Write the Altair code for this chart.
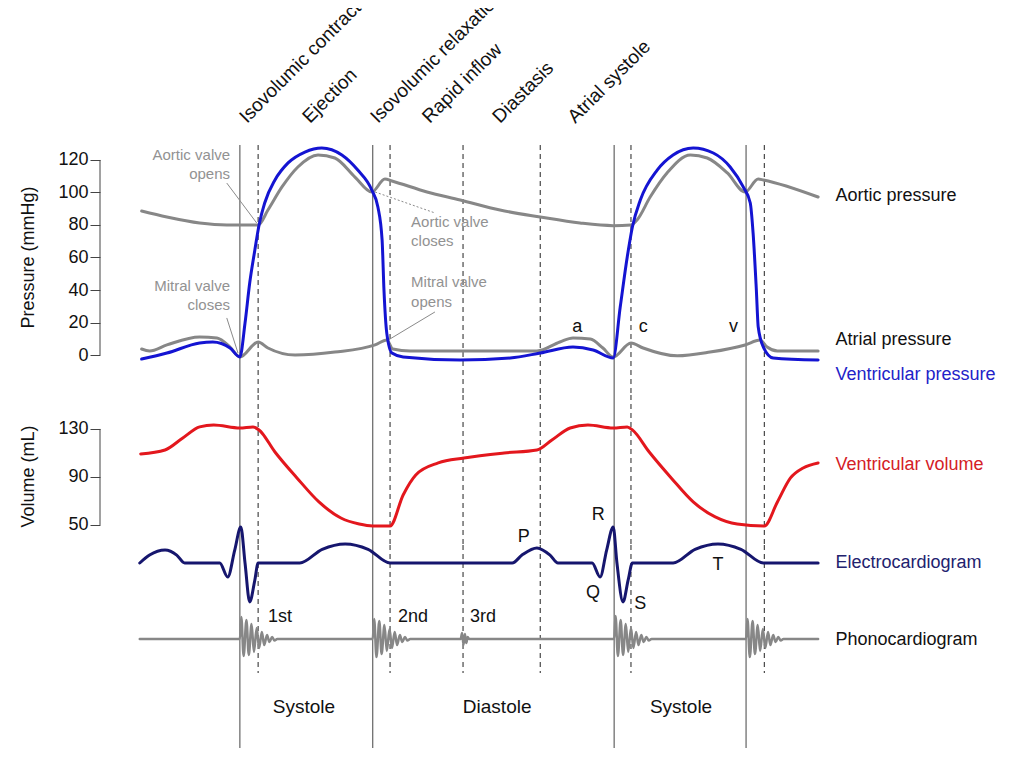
import altair as alt
import pandas as pd

FONT = "Liberation Sans"

# ---- time in ms (0 = start of isovolumic contraction of first beat) ----
T_DOMAIN = [-299, 1659]

solid_t = [0, 284, 800, 1082]
dashed_t = [39, 321, 477, 642, 836, 1121]

# ---- pressures (mmHg) ----
aortic_t = [-210, -156, -86, -28, 39, 60, 90, 124, 167, 203, 246, 282, 310, 325, 400, 471, 556, 642, 727,
            798, 836, 849, 877, 913, 963, 999, 1042, 1080, 1108, 1119, 1236]
aortic_p = [88.6, 84.9, 81.2, 80.0, 80.0, 89.2, 103.4, 115.7, 123.1, 121.2, 109.5, 100.3, 108.3, 107.1, 100.3,
            95.4, 89.2, 84.9, 81.2, 79.6, 80.0, 83.1, 97.2, 112.0, 123.1, 121.2, 112.0, 100.3, 108.3, 107.7, 97.2]

atrial_t = [-210, -193, -156, -86, -49, -21, 0, 39, 60, 118, 203, 289, 314, 327, 364, 635, 684, 712, 749, 776,
            798, 836, 862, 935, 1005, 1080, 1112, 1127, 1149, 1236]
atrial_p = [3.7, 2.5, 6.2, 11.1, 10.5, 4.9, -1.2, 8.0, 4.3, 0.0, 1.8, 6.2, 9.2, 3.7, 2.5, 2.5, 8.0, 10.5, 9.8, 4.3,
            -1.2, 7.4, 4.3, -0.5, 1.8, 6.2, 9.2, 4.9, 2.5, 2.5]

vent_t = [-210, -156, -86, -58, -21, 0, 11, 21, 32, 41, 53, 75, 103, 139, 175, 218, 252, 282, 295, 304, 308, 314,
          325, 349, 471, 578, 642, 712, 755, 798, 813, 828, 839, 856, 892, 926, 969, 1012, 1048, 1076, 1091, 1097,
          1104, 1108, 1119, 1140, 1236]
vent_p = [-2.5, 1.2, 7.4, 8.0, 4.3, -1.2, 19.7, 44.3, 64.6, 80.0, 93.5, 107.7, 118.2, 124.9, 127.4, 123.1, 113.8,
          101.5, 91.1, 70.8, 40.0, 13.5, 1.2, -1.2, -3.1, -1.8, 1.2, 4.9, 3.1, -1.8, 29.5, 60.3, 78.8, 95.4, 113.8,
          123.1, 127.4, 124.3, 115.7, 103.4, 93.5, 75.1, 40.0, 17.2, 4.9, -1.8, -3.1]

# ---- ventricular volume (mL) ----
vol_t = [-212, -160, -122, -86, -56, 0, 28, 41, 75, 122, 169, 216, 255, 284, 321, 349, 376, 424, 479, 565, 635,
         667, 706, 744, 798, 828, 839, 875, 922, 969, 1016, 1063, 1121, 1149, 1177, 1204, 1236]
vol_v = [109.2, 112.5, 122.5, 131.7, 133.3, 130.8, 131.7, 129.2, 110.8, 89.2, 69.2, 55.8, 50.8, 49.2, 49.2, 75.0,
         91.7, 101.7, 105.8, 110.0, 112.5, 120.8, 130.8, 133.3, 130.8, 131.7, 129.2, 110.8, 89.2, 69.2, 56.7, 50.8,
         49.2, 69.2, 89.2, 97.5, 101.7]

# ---- electrocardiogram (mV) ----
ecg_t = [-214, -193, -160, -135, -118, -43, -26, -11, 2, 11, 21, 32, 39, 128, 176, 225, 274, 321, 582, 603, 635,
         663, 680, 753, 770, 784, 798, 806, 819, 830, 839, 926, 973, 1022, 1071, 1119, 1236]
ecg_v = [0, 0.22, 0.36, 0.22, 0, 0, -0.39, 0.36, 1.0, 0, -1.08, -0.47, 0, 0, 0.38, 0.53, 0.38, 0, 0, 0.22, 0.42,
         0.22, 0, 0, -0.39, 0.36, 1.0, 0, -1.08, -0.47, 0, 0, 0.38, 0.53, 0.38, 0, 0]

# ---- phonocardiogram (arbitrary units) ----
phono_t = [-214, 0, 3, 8, 14, 19, 25, 30, 36, 41, 47, 52, 58, 63, 69, 74, 80,
           284, 287, 292, 298, 303, 309, 314, 320, 325, 331, 336, 342, 347, 353, 358, 364,
           472, 475, 478, 481, 484, 487, 490,
           800, 803, 808, 814, 819, 825, 830, 836, 841, 847, 852, 858, 863, 869, 874, 880,
           1082, 1085, 1090, 1096, 1101, 1107, 1112, 1118, 1123, 1129, 1134, 1140, 1145, 1151, 1156, 1162, 1236]
phono_v = [0, 0, 1.1, -0.85, 0.95, -0.8, 0.75, -0.65, 0.55, -0.45, 0.35, -0.3, 0.2, -0.15, 0.1, -0.08, 0,
           0, 1.0, -0.9, 0.9, -0.75, 0.7, -0.6, 0.5, -0.45, 0.35, -0.3, 0.2, -0.15, 0.1, -0.08, 0,
           0, 0.3, -0.3, 0.25, -0.2, 0.1, 0,
           0, 1.15, -0.85, 0.95, -0.8, 0.75, -0.65, 0.55, -0.45, 0.35, -0.3, 0.2, -0.15, 0.1, -0.08, 0,
           0, 1.0, -0.9, 0.9, -0.75, 0.7, -0.6, 0.5, -0.45, 0.35, -0.3, 0.2, -0.15, 0.1, -0.08, 0, 0]

# ---- text ----
phase_names = ["Isovolumic contraction", "Ejection", "Isovolumic relaxation", "Rapid inflow", "Diastasis",
               "Atrial systole"]
phase_t = [15, 150, 295, 406, 556, 717]
phase_p = 142.2

annot_text = ["Aortic valve", "opens", "Mitral valve", "closes", "Aortic valve", "closes", "Mitral valve", "opens"]
annot_t = [-21, -21, -21, -21, 366, 366, 366, 366]
annot_p = [123.1, 111.4, 42.5, 30.8, 81.8, 70.2, 44.9, 32.6]
annot_align = ["right", "right", "right", "right", "left", "left", "left", "left"]

leader_t = [-28, -28, 289, 417]
leader_t2 = [36, -4, 417, 317]
leader_p = [105.8, 22.8, 100.3, 26.5]
leader_p2 = [81.2, 1.2, 87.4, 9.2]
leader_dash = ["solid", "solid", "dotted", "solid"]

wave_letters = ["a", "c", "v"]
wave_t = [721, 862, 1055]
wave_p = [17.2, 17.2, 17.2]

ecg_letters = ["P", "R", "Q", "S", "T"]
ecg_letter_t = [607, 766, 755, 856, 1022]
ecg_letter_v = [0.72, 1.33, -0.83, -1.14, -0.06]

sound_names = ["1st", "2nd", "3rd"]
sound_t = [60, 338, 492]
sound_v = [1.1, 1.1, 1.1]

period_names = ["Systole", "Diastole", "Systole"]
period_t = [137, 550, 943]
period_v = -3.4

LABEL_T = 1273

BLUE = "#1414d2"
RED = "#e3171d"
NAVY = "#16166e"
GRAY = "#878787"
LGRAY = "#929292"

# ---- layout ----
W = 916
H1, H2, H3 = 387, 150, 215
P_DOM = [-24.6, 213.5]
V_DOM = [33.3, 158.3]
E_DOM = [-5.47, 0.5]
S_DOM = [-6.05, 4.7]

xsc = alt.Scale(domain=T_DOMAIN, nice=False, zero=False)
psc = alt.Scale(domain=P_DOM, nice=False, zero=False)
vsc = alt.Scale(domain=V_DOM, nice=False, zero=False)
esc = alt.Scale(domain=E_DOM, nice=False, zero=False)
ssc = alt.Scale(domain=S_DOM, nice=False, zero=False)


def make_axis(values, title, title_y):
    return alt.Axis(values=values, domain=False, grid=False, ticks=True, tickSize=10, tickColor="#444444",
                    tickWidth=1, labelFont=FONT, labelFontSize=18, labelColor="#111111", labelPadding=2,
                    title=title, titleFont=FONT, titleFontSize=18, titleFontWeight="normal",
                    titleColor="#111111", titlePadding=20, minExtent=43, maxExtent=43, titleY=title_y)


P_AXIS = make_axis([0, 20, 40, 60, 80, 100, 120], "Pressure (mmHg)", 249)
V_AXIS = make_axis([50, 90, 130], "Volume (mL)", 81)


def X(f="t"):
    return alt.X(f"{f}:Q", scale=xsc, axis=None)


def Y(f, sc, ax=None):
    return alt.Y(f"{f}:Q", scale=sc, axis=ax)


def curve(t, v, sc, color, width=3.0, ax=None):
    df = pd.DataFrame({"t": t, "v": v})
    return alt.Chart(df).mark_line(interpolate="monotone", color=color, strokeWidth=width,
                                   strokeJoin="round", strokeCap="round").encode(x=X(), y=Y("v", sc, ax))


def rules(ts, top, bottom, sc, dashed, ax=None):
    df = pd.DataFrame({"t": ts, "top": [top] * len(ts), "bottom": [bottom] * len(ts)})
    if dashed:
        m = alt.Chart(df).mark_rule(color="#222222", strokeWidth=1, strokeDash=[5, 4])
    else:
        m = alt.Chart(df).mark_rule(color="#555555", strokeWidth=1.1)
    return m.encode(x=X(), y=Y("top", sc, ax), y2="bottom:Q")


def texts(names, ts, vs, sc, color="#111111", size=18, align="center", ax=None, **kw):
    df = pd.DataFrame({"t": ts, "v": vs, "s": names})
    return alt.Chart(df).mark_text(font=FONT, fontSize=size, color=color, align=align,
                                   baseline="middle", **kw).encode(x=X(), y=Y("v", sc, ax), text="s:N")


# ---------------- panel 1 : pressures ----------------
A = P_AXIS
p_axis_line = alt.Chart(pd.DataFrame({"lo": [0], "hi": [120]})).mark_rule(
    color="#444444", strokeWidth=1).encode(x=alt.value(0), y=Y("lo", psc, A), y2="hi:Q")

leader_df = pd.DataFrame({"t": leader_t, "t2": leader_t2, "p": leader_p, "p2": leader_p2, "d": leader_dash})
leaders_solid = alt.Chart(leader_df[leader_df.d == "solid"]).mark_rule(color="#8a8a8a", strokeWidth=1).encode(
    x=X(), x2="t2:Q", y=Y("p", psc, A), y2="p2:Q")
leaders_dot = alt.Chart(leader_df[leader_df.d == "dotted"]).mark_rule(
    color="#8a8a8a", strokeWidth=1, strokeDash=[2, 2]).encode(x=X(), x2="t2:Q", y=Y("p", psc, A), y2="p2:Q")

annot_df = pd.DataFrame({"t": annot_t, "v": annot_p, "s": annot_text, "a": annot_align})
annot_right = alt.Chart(annot_df[annot_df.a == "right"]).mark_text(
    font=FONT, fontSize=15, color=LGRAY, align="right", baseline="middle").encode(
    x=X(), y=Y("v", psc, A), text="s:N")
annot_left = alt.Chart(annot_df[annot_df.a == "left"]).mark_text(
    font=FONT, fontSize=15, color=LGRAY, align="left", baseline="middle").encode(
    x=X(), y=Y("v", psc, A), text="s:N")

phase_df = pd.DataFrame({"t": phase_t, "v": [phase_p] * len(phase_t), "s": phase_names})
phase_labels = alt.Chart(phase_df).mark_text(
    font=FONT, fontSize=19, color="#111111", align="left", baseline="alphabetic", angle=315,
    clip=True).encode(x=X(), y=Y("v", psc, A), text="s:N")

panel1 = alt.layer(
    p_axis_line,
    rules(solid_t, 129.2, P_DOM[0], psc, False, A),
    rules(dashed_t, 129.2, P_DOM[0], psc, True, A),
    leaders_solid, leaders_dot, annot_right, annot_left,
    curve(atrial_t, atrial_p, psc, GRAY, ax=A),
    curve(aortic_t, aortic_p, psc, GRAY, ax=A),
    curve(vent_t, vent_p, psc, BLUE, ax=A),
    texts(wave_letters, wave_t, wave_p, psc, ax=A),
    phase_labels,
    texts(["Aortic pressure", "Atrial pressure"], [LABEL_T, LABEL_T], [97.8, 9.2], psc, align="left", ax=A),
    texts(["Ventricular pressure"], [LABEL_T], [-12.3], psc, color="#2222c8", align="left", ax=A),
).properties(width=W, height=H1)

# ---------------- panel 2 : volume ----------------
B = V_AXIS
v_axis_line = alt.Chart(pd.DataFrame({"lo": [50], "hi": [130]})).mark_rule(
    color="#444444", strokeWidth=1).encode(x=alt.value(0), y=Y("lo", vsc, B), y2="hi:Q")

panel2 = alt.layer(
    v_axis_line,
    rules(solid_t, V_DOM[1], V_DOM[0], vsc, False, B),
    rules(dashed_t, V_DOM[1], V_DOM[0], vsc, True, B),
    curve(vol_t, vol_v, vsc, RED, ax=B),
    texts(["Ventricular volume"], [LABEL_T], [100.0], vsc, color="#d42026", align="left", ax=B),
).properties(width=W, height=H2)

# ---------------- panel 3 : ECG, phonocardiogram, phases ----------------
panel3 = alt.layer(
    rules(solid_t, S_DOM[1], -5.45, ssc, False),
    rules(dashed_t, S_DOM[1], -1.7, ssc, True),
    curve(ecg_t, ecg_v, esc, NAVY),
    curve(phono_t, phono_v, ssc, GRAY, 2.5),
    texts(ecg_letters, ecg_letter_t, ecg_letter_v, esc),
    texts(["Electrocardiogram"], [LABEL_T], [0.0], esc, color="#22226e", align="left"),
    texts(sound_names, sound_t, sound_v, ssc, align="left"),
    texts(["Phonocardiogram"], [LABEL_T], [-0.05], ssc, align="left"),
    texts(period_names, period_t, [period_v] * 3, ssc, size=19),
).resolve_scale(y="independent").properties(width=W, height=H3)

chart = alt.vconcat(panel1, panel2, panel3, spacing=0, bounds="flush").properties(
    padding={"left": 11, "top": 0, "right": 0, "bottom": 0}
).configure_view(stroke=None)

chart.save("out.html", embed_options={"renderer": "svg", "actions": False})
